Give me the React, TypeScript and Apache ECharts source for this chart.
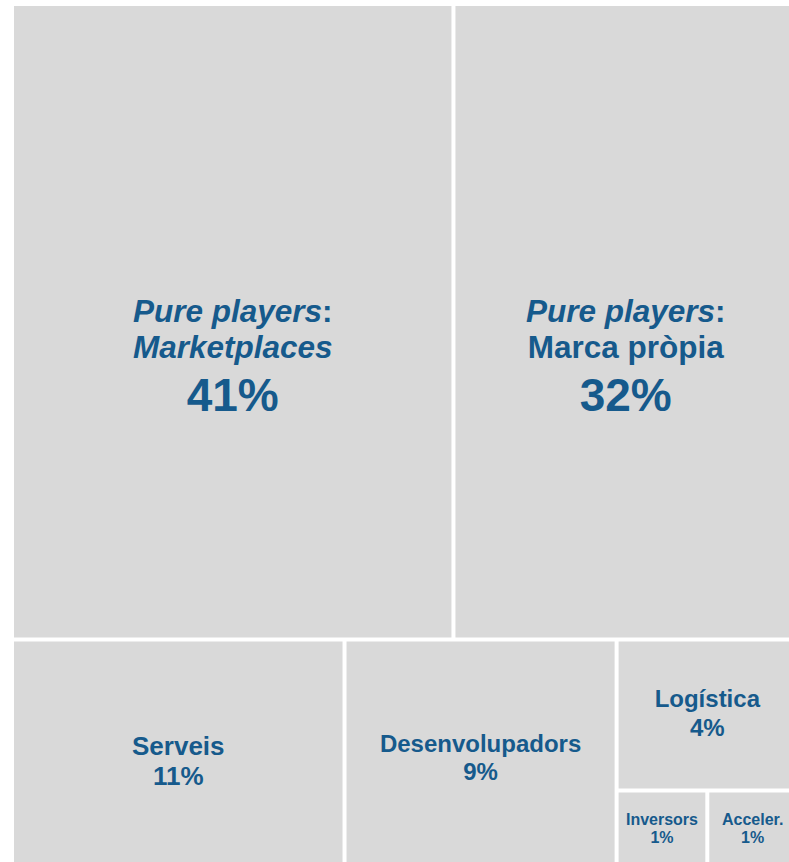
import React, { useEffect, useRef } from "react";
import * as echarts from "echarts";

// Data
const topNames = ["Marketplaces", "Marca pròpia"];
const topValues = [41, 32];
const bottomNames = ["Serveis", "Desenvolupadors"];
const bottomValues = [11, 9];
const logisticsName = "Logística";
const logisticsValue = 4;
const smallNames = ["Inversors", "Acceler."];
const smallValues = [1, 1];
const prefix = "Pure players";

const FONT = "'Liberation Sans', Arial, sans-serif";
const TEXT = "#165A8C";
const BOX = "#d9d9d9";

export default function App() {
  const ref = useRef<HTMLDivElement>(null);
  useEffect(() => {
    if (!ref.current) return;
    const chart = echarts.init(ref.current, null, { renderer: "svg" });

    const topLabel = (i: number) => ({
      show: true,
      position: ["50%", "50%"],
      align: "center",
      verticalAlign: "middle",
      offset: [0, 282],
      formatter: () =>
        `{it|${prefix}}{b|:}\n` +
        (i === 0 ? `{it|${topNames[i]}}` : `{b|${topNames[i]}}`) +
        `\n{big|${topValues[i]}%}`,
      rich: {
        it: { fontFamily: FONT, fontSize: 31.5, fontWeight: "bold", fontStyle: "italic", color: TEXT, lineHeight: 36 },
        b: { fontFamily: FONT, fontSize: 31.5, fontWeight: "bold", color: TEXT, lineHeight: 36 },
        big: { fontFamily: FONT, fontSize: 46, fontWeight: "bold", color: TEXT, lineHeight: 60 },
      },
    });

    const simpleLabel = (name: string, value: number, size: number, lh: number, offY = 0) => ({
      show: true,
      position: ["50%", "50%"],
      align: "center",
      verticalAlign: "middle",
      offset: [0, offY],
      formatter: () => `{m|${name}}\n{m|${value}%}`,
      rich: {
        m: { fontFamily: FONT, fontSize: size, fontWeight: "bold", color: TEXT, lineHeight: lh, align: "center" },
      },
    });

    const leafStyle = { color: BOX };

    const data = [
      {
        name: "top",
        children: topNames.map((n, i) => ({ name: n, value: topValues[i], itemStyle: leafStyle, label: topLabel(i) })),
      },
      {
        name: "bottom",
        children: [
          ...bottomNames.map((n, i) => ({
            name: n,
            value: bottomValues[i],
            itemStyle: leafStyle,
            label: i === 0 ? simpleLabel(n, bottomValues[i], 26, 30, 84) : simpleLabel(n, bottomValues[i], 24, 28, 83),
          })),
          {
            name: "rest",
            children: [
              {
                name: logisticsName,
                value: logisticsValue,
                itemStyle: leafStyle,
                label: simpleLabel(logisticsName, logisticsValue, 24, 29, 37),
              },
              {
                name: "small",
                children: smallNames.map((n, i) => ({
                  name: n,
                  value: smallValues[i],
                  itemStyle: leafStyle,
                  label: simpleLabel(n, smallValues[i], 16, 18, 13),
                })),
              },
            ],
          },
        ],
      },
    ];

    chart.setOption({
      animation: false,
      color: [BOX],
      series: [
        {
          type: "treemap",
          left: 14,
          top: 6,
          width: 782,
          height: 858,
          roam: false,
          nodeClick: false,
          sort: false,
          breadcrumb: { show: false },
          squareRatio: 1,
          color: [BOX],
          itemStyle: { color: BOX, borderColor: "#ffffff", borderWidth: 0, gapWidth: 4 },
          upperLabel: { show: false },
          label: { show: true },
          data,
        },
      ],
    });
    return () => chart.dispose();
  }, []);
  return (
    <div
      ref={ref}
      style={{ position: "fixed", left: 0, top: 0, width: 789, height: 862, background: "#ffffff" }}
    />
  );
}
